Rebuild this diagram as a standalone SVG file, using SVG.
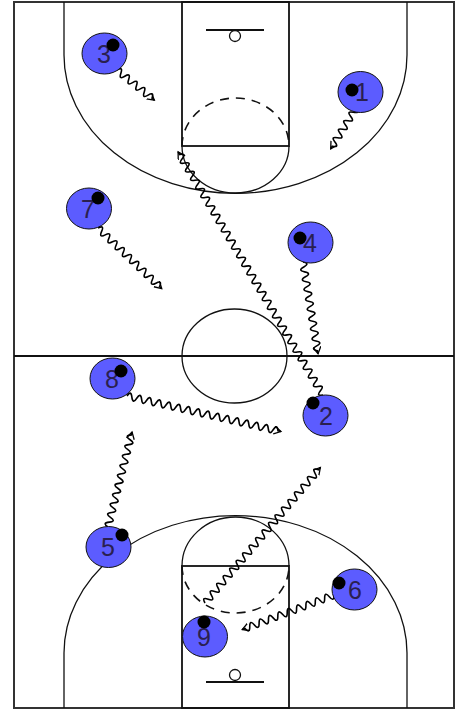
<svg xmlns="http://www.w3.org/2000/svg" width="457" height="710" viewBox="0 0 457 710">
<style>
.ln{fill:none;stroke:#111;stroke-width:1.3}
.lane{fill:none;stroke:#111;stroke-width:1.8}
.dash{fill:none;stroke:#111;stroke-width:1.6;stroke-dasharray:9 7}
.wave{fill:none;stroke:#000;stroke-width:1.6;marker-end:url(#ah)}
.pl{fill:#5c5cff;stroke:#111;stroke-width:1}
.ball{fill:#000}
.lb{font-family:"Liberation Sans",Arial,sans-serif;font-size:25px;fill:#2a2050;text-anchor:middle}
</style>
<defs>
<marker id="ah" markerWidth="9" markerHeight="9" refX="7" refY="4" orient="auto" markerUnits="userSpaceOnUse">
<path d="M0 0L7 4L0 8" fill="none" stroke="#000" stroke-width="1.3"/>
</marker>
</defs>
<rect width="457" height="710" fill="#fff"/>
<g id="court">
<rect x="14" y="2" width="440" height="706" fill="none" stroke="#333" stroke-width="2"/>
<line x1="14" y1="356" x2="454" y2="356" stroke="#111" stroke-width="1.8"/>
<ellipse cx="234.5" cy="356" rx="52.5" ry="47" class="ln"/>
<rect x="182" y="2" width="107" height="144" class="lane"/>
<rect x="182" y="566" width="107" height="142" class="lane"/>
<path class="ln" d="M64 2V55A171 138 0 0 0 407 55V2"/>
<path class="ln" d="M64 708V653A171 137 0 0 1 407 653V708"/>
<path class="ln" d="M182 146A53.5 47 0 0 0 289 146"/>
<path class="dash" d="M182 146A53.5 48 0 0 1 289 146"/>
<path class="ln" d="M182 566A53.5 49 0 0 1 289 566"/>
<path class="dash" d="M182 566A53.5 47 0 0 0 289 566"/>
<line x1="206" y1="30" x2="264" y2="30" stroke="#111" stroke-width="1.8"/>
<circle cx="235" cy="36" r="5.5" class="ln"/>
<line x1="206" y1="682" x2="264" y2="682" stroke="#111" stroke-width="1.8"/>
<circle cx="235" cy="675" r="5.5" class="ln"/>
</g>
<g id="connectors">
<path class="wave" transform="translate(117 70) rotate(38.9)" d="M0 0q2.5 -7 5 0t5 0t5 0t5 0t5 0t5 0t5 0t5 0t5 0h3"/>
<path class="wave" transform="translate(356 108) rotate(121.8)" d="M0 0q2.5 -7 5 0t5 0t5 0t5 0t5 0t5 0t5 0t5 0t5 0h3"/>
<path class="wave" transform="translate(323 395) rotate(-120.8)" d="M0 0q2.5 -7 5 0t5 0t5 0t5 0t5 0t5 0t5 0t5 0t5 0t5 0t5 0t5 0t5 0t5 0t5 0t5 0t5 0t5 0t5 0t5 0t5 0t5 0t5 0t5 0t5 0t5 0t5 0t5 0t5 0t5 0t5 0t5 0t5 0t5 0t5 0t5 0t5 0t5 0t5 0t5 0t5 0t5 0t5 0t5 0t5 0t5 0t5 0t5 0t5 0t5 0t5 0t5 0t5 0t5 0t5 0t5 0h3"/>
<path class="wave" transform="translate(303 262) rotate(80.7)" d="M0 0q2.5 -7 5 0t5 0t5 0t5 0t5 0t5 0t5 0t5 0t5 0t5 0t5 0t5 0t5 0t5 0t5 0t5 0t5 0t5 0h3"/>
<path class="wave" transform="translate(98 228) rotate(43.6)" d="M0 0q2.5 -7 5 0t5 0t5 0t5 0t5 0t5 0t5 0t5 0t5 0t5 0t5 0t5 0t5 0t5 0t5 0t5 0t5 0h3"/>
<path class="wave" transform="translate(127 396) rotate(13)" d="M0 0q2.5 -7 5 0t5 0t5 0t5 0t5 0t5 0t5 0t5 0t5 0t5 0t5 0t5 0t5 0t5 0t5 0t5 0t5 0t5 0t5 0t5 0t5 0t5 0t5 0t5 0t5 0t5 0t5 0t5 0t5 0t5 0t5 0h3"/>
<path class="wave" transform="translate(108 527) rotate(-75.8)" d="M0 0q2.5 -7 5 0t5 0t5 0t5 0t5 0t5 0t5 0t5 0t5 0t5 0t5 0t5 0t5 0t5 0t5 0t5 0t5 0t5 0t5 0h3"/>
<path class="wave" transform="translate(205 603) rotate(-49.6)" d="M0 0q2.5 -7 5 0t5 0t5 0t5 0t5 0t5 0t5 0t5 0t5 0t5 0t5 0t5 0t5 0t5 0t5 0t5 0t5 0t5 0t5 0t5 0t5 0t5 0t5 0t5 0t5 0t5 0t5 0t5 0t5 0t5 0t5 0t5 0t5 0t5 0t5 0h3"/>
<path class="wave" transform="translate(334 595) rotate(159.4)" d="M0 0q2.5 -7 5 0t5 0t5 0t5 0t5 0t5 0t5 0t5 0t5 0t5 0t5 0t5 0t5 0t5 0t5 0t5 0t5 0t5 0t5 0h3"/>
</g>
<g id="p3"><ellipse class="pl" cx="104.5" cy="53.5" rx="22.5" ry="20.5"/><text class="lb" x="104" y="63">3</text><circle class="ball" cx="113" cy="45" r="6.5"/></g>
<g id="p1"><ellipse class="pl" cx="360.5" cy="92" rx="22.5" ry="20.5"/><text class="lb" x="362" y="101">1</text><circle class="ball" cx="352" cy="90" r="6.5"/></g>
<g id="p7"><ellipse class="pl" cx="89" cy="208.5" rx="22.5" ry="20.5"/><text class="lb" x="88" y="218">7</text><circle class="ball" cx="98" cy="198" r="6.5"/></g>
<g id="p4"><ellipse class="pl" cx="310.5" cy="242.5" rx="22.5" ry="20.5"/><text class="lb" x="310" y="252">4</text><circle class="ball" cx="300" cy="238" r="6.5"/></g>
<g id="p8"><ellipse class="pl" cx="112.5" cy="378.5" rx="22.5" ry="20.5"/><text class="lb" x="112" y="388">8</text><circle class="ball" cx="121" cy="371" r="6.5"/></g>
<g id="p2"><ellipse class="pl" cx="325.5" cy="415.5" rx="22.5" ry="20.5"/><text class="lb" x="326" y="425">2</text><circle class="ball" cx="313" cy="403" r="6.5"/></g>
<g id="p5"><ellipse class="pl" cx="108.5" cy="547" rx="22.5" ry="20.5"/><text class="lb" x="108" y="556">5</text><circle class="ball" cx="122" cy="535" r="6.5"/></g>
<g id="p6"><ellipse class="pl" cx="354.5" cy="589.5" rx="22.5" ry="20.5"/><text class="lb" x="355" y="599">6</text><circle class="ball" cx="339" cy="583" r="6.5"/></g>
<g id="p9"><ellipse class="pl" cx="205" cy="636.5" rx="22.5" ry="20.5"/><text class="lb" x="204" y="646">9</text><circle class="ball" cx="204" cy="622" r="6.5"/></g>
</svg>
